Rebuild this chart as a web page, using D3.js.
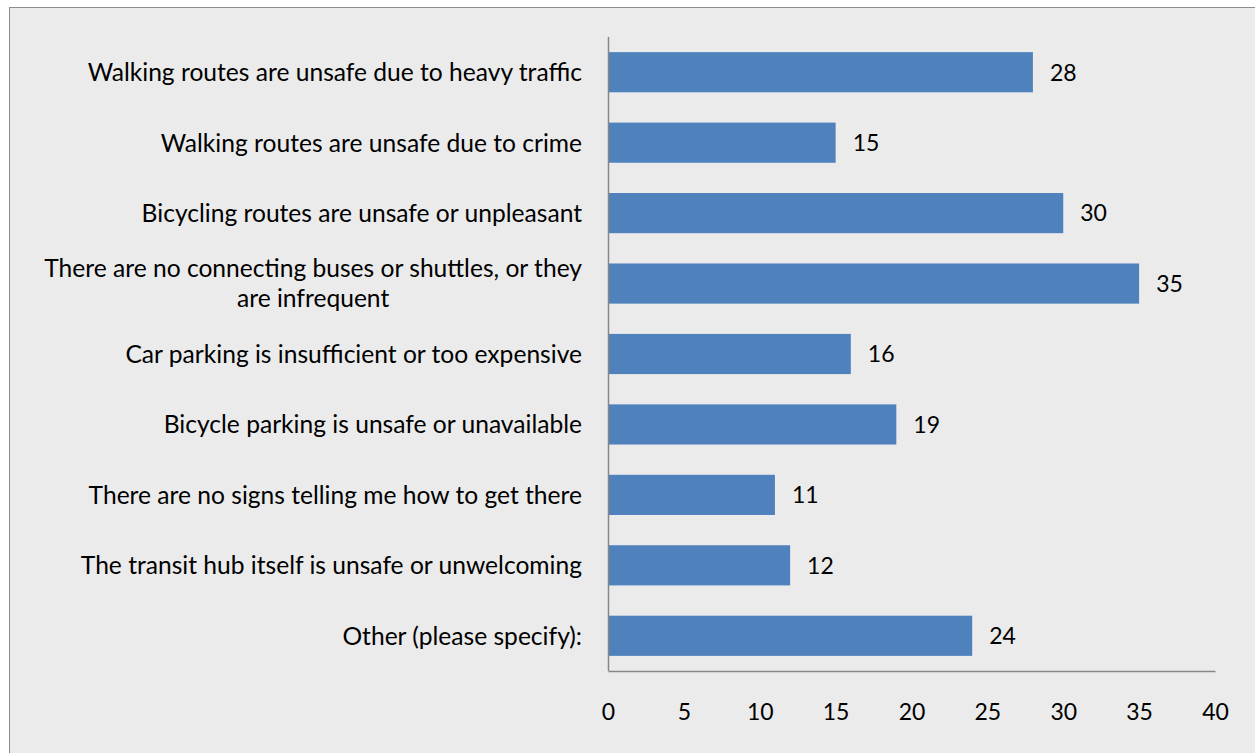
<!DOCTYPE html>
<html>
<head>
<meta charset="utf-8">
<script src="https://cdn.jsdelivr.net/npm/d3@7"></script>
<style>
  html, body { margin: 0; padding: 0; background: #ffffff; }
  svg { display: block; }
  text { font-family: Lato, "Open Sans", sans-serif; fill: #000; }
</style>
</head>
<body>
<svg id="chart" width="1255" height="753"></svg>
<script>
// Reasons respondents give for not reaching the transit hub
const categories = [
  "Walking routes are unsafe due to heavy traffic",
  "Walking routes are unsafe due to crime",
  "Bicycling routes are unsafe or unpleasant",
  "There are no connecting buses or shuttles, or they are infrequent",
  "Car parking is insufficient or too expensive",
  "Bicycle parking is unsafe or unavailable",
  "There are no signs telling me how to get there",
  "The transit hub itself is unsafe or unwelcoming",
  "Other (please specify):"
];
const values = [28, 15, 30, 35, 16, 19, 11, 12, 24];
const xTicks = [0, 5, 10, 15, 20, 25, 30, 35, 40];

const labelFont = 24.6;
const numberFont = 23;
const svg = d3.select("#chart");

// chart area background with a frame that runs off the right/bottom edge
svg.append("rect")
  .attr("x", 9.5).attr("y", 7.5)
  .attr("width", 1300).attr("height", 800)
  .attr("fill", "#ebebeb")
  .attr("stroke", "#8c8c8c")
  .attr("stroke-width", 1);

const plot = { left: 608, right: 1215, top: 37, bottom: 671 };

const x = d3.scaleLinear().domain([0, 40]).range([plot.left, plot.right]);
const y = d3.scaleBand().domain(categories)
  .range([plot.top, plot.bottom])
  .paddingInner(0.43).paddingOuter(0.215);

// bars
svg.append("g").selectAll("rect")
  .data(values)
  .join("rect")
  .attr("x", x(0))
  .attr("y", (d, i) => y(categories[i]))
  .attr("width", d => x(d) - x(0))
  .attr("height", y.bandwidth())
  .attr("fill", "#4f81bd");

// value labels
svg.append("g").selectAll("text")
  .data(values)
  .join("text")
  .attr("x", d => x(d) + 17)
  .attr("y", (d, i) => y(categories[i]) + y.bandwidth() / 2)
  .attr("dy", "0.36em")
  .attr("font-size", numberFont)
  .text(d => d);

// axis lines (no tick marks)
const axisColor = "#868686";
svg.append("line")
  .attr("x1", plot.left + 0.5).attr("x2", plot.left + 0.5)
  .attr("y1", plot.top).attr("y2", plot.bottom)
  .attr("stroke", axisColor).attr("stroke-width", 1.5);

const xAxis = svg.append("g")
  .attr("transform", `translate(0,${plot.bottom})`)
  .call(d3.axisBottom(x).tickValues(xTicks).tickSize(0).tickPadding(33));
xAxis.select(".domain").attr("stroke", axisColor).attr("stroke-width", 1.5);
xAxis.selectAll("text")
  .attr("font-size", numberFont)
  .attr("font-family", "Lato, 'Open Sans', sans-serif")
  .attr("fill", "#000");

// category labels, right-aligned block; wrapped lines centred in the block
const labelRight = 582;
const maxLineWidth = 555;
const lineHeight = 30;
const labelG = svg.append("g");

categories.forEach(cat => {
  const cy = y(cat) + y.bandwidth() / 2;
  const probe = labelG.append("text").attr("font-size", labelFont);
  const words = cat.split(" ");
  const lines = [];
  let cur = [];
  words.forEach(w => {
    cur.push(w);
    probe.text(cur.join(" "));
    if (probe.node().getComputedTextLength() > maxLineWidth && cur.length > 1) {
      cur.pop();
      lines.push(cur.join(" "));
      cur = [w];
    }
  });
  lines.push(cur.join(" "));
  probe.remove();

  if (lines.length === 1) {
    labelG.append("text")
      .attr("x", labelRight).attr("y", cy)
      .attr("dy", "0.36em")
      .attr("text-anchor", "end")
      .attr("font-size", labelFont)
      .text(lines[0]);
  } else {
    const t = labelG.append("text").attr("font-size", labelFont);
    let widest = 0;
    lines.forEach(l => {
      t.text(l);
      widest = Math.max(widest, t.node().getComputedTextLength());
    });
    t.remove();
    const cx = labelRight - widest / 2;
    const y0 = cy - (lines.length - 1) * lineHeight / 2;
    lines.forEach((l, k) => {
      labelG.append("text")
        .attr("x", cx).attr("y", y0 + k * lineHeight)
        .attr("dy", "0.36em")
        .attr("text-anchor", "middle")
        .attr("font-size", labelFont)
        .text(l);
    });
  }
});
</script>
</body>
</html>
